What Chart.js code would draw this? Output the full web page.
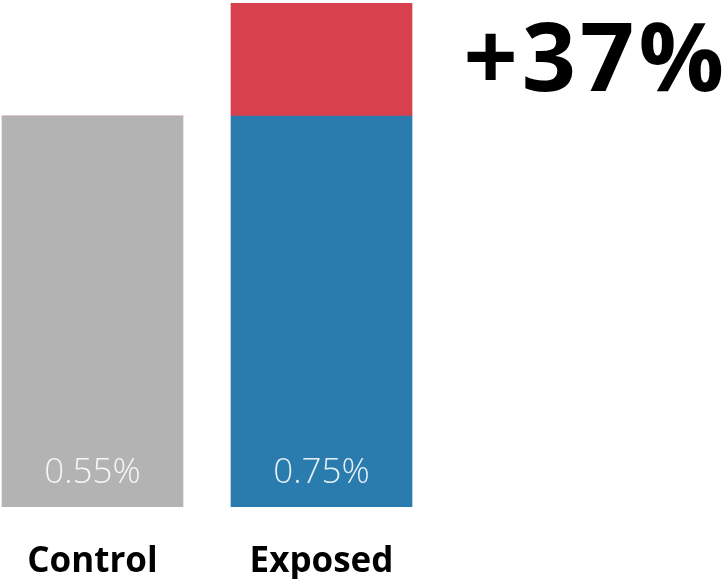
<!DOCTYPE html>
<html>
<head>
<meta charset="utf-8">
<script src="https://cdn.jsdelivr.net/npm/chart.js@4"></script>
<style>
  html, body { margin: 0; padding: 0; background: #ffffff; }
  #wrap { width: 726px; height: 583px; position: relative; }
</style>
</head>
<body>
<div id="wrap"><canvas id="c" width="726" height="583"></canvas></div>
<script>
// Conversion rates (%) per group
const groups = ['Control', 'Exposed', ''];
const rates = [0.55, 0.75];
const liftLabel = '+37%';
const valueLabels = ['0.55%', '0.75%'];

const GRAY = '#b3b3b3';
const BLUE = '#2a7bae';
const RED = '#d8404e';

// Baseline part of every bar is the control rate; the exposed bar adds the uplift on top.
const baseValues = [rates[0], rates[0], null];
const upliftValues = [0, rates[1] - rates[0], null];

const overlayText = {
  id: 'overlayText',
  afterDatasetsDraw(chart) {
    const { ctx, scales } = chart;
    const xs = scales.x, ys = scales.y;
    ctx.save();
    // value labels inside the bars
    ctx.font = '300 35px "Open Sans", sans-serif';
    ctx.fillStyle = 'rgba(255,255,255,0.88)';
    ctx.textAlign = 'center';
    ctx.textBaseline = 'alphabetic';
    valueLabels.forEach((t, i) => {
      ctx.fillText(t, xs.getPixelForValue(i), ys.getPixelForValue(0) - 24);
    });
    // uplift headline
    ctx.font = 'bold 95px "Open Sans", sans-serif';
    ctx.letterSpacing = '4px';
    ctx.fillStyle = '#000000';
    ctx.textAlign = 'right';
    ctx.fillText(liftLabel, chart.width + 2, 91);
    ctx.restore();
  }
};

new Chart(document.getElementById('c'), {
  type: 'bar',
  data: {
    labels: groups,
    datasets: [
      {
        data: baseValues,
        backgroundColor: [GRAY, BLUE, BLUE],
        borderWidth: 0,
        barThickness: 181,
        clip: { left: 120, right: 120, top: 0, bottom: 0 }
      },
      {
        data: upliftValues,
        backgroundColor: RED,
        borderWidth: 0,
        barThickness: 181,
        clip: { left: 120, right: 120, top: 0, bottom: 0 }
      }
    ]
  },
  options: {
    responsive: false,
    animation: false,
    layout: { padding: { top: 3, left: 92.5, right: 175.5, bottom: 4 } },
    plugins: { legend: { display: false }, tooltip: { enabled: false } },
    scales: {
      x: {
        stacked: true,
        offset: false,
        grid: { display: false, drawTicks: false },
        border: { display: false },
        ticks: {
          color: '#000000',
          font: { family: '"Open Sans", sans-serif', size: 35, weight: 'bold' },
          padding: 34,
          maxRotation: 0,
          autoSkip: false
        },
        afterFit(scale) {
          scale.paddingLeft = 0;
          scale.paddingRight = 0;
          scale.height = 72;
        }
      },
      y: {
        stacked: true,
        display: false,
        min: 0,
        max: 0.709
      }
    }
  },
  plugins: [overlayText]
});
</script>
</body>
</html>
